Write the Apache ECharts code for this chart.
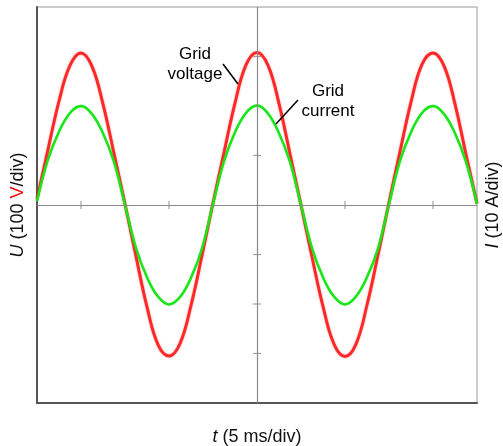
<!DOCTYPE html>
<html>
<head>
<meta charset="utf-8">
<title>Grid voltage and current</title>
<script src="https://cdn.jsdelivr.net/npm/echarts@6.0.0/dist/echarts.min.js"></script>
<style>
  html, body { margin: 0; padding: 0; background: #fff; }
  #chart { width: 503px; height: 446px; }
</style>
</head>
<body>
<div id="chart"></div>
<script>
// sample times in ms (scope set to 5 ms/div, 5 divisions shown)
var timeMs = [
  -12.5, -11.875, -11.25, -10.625, -10, -9.375, -8.75, -8.125,
  -7.5, -6.875, -6.25, -5.625, -5, -4.375, -3.75, -3.125,
  -2.5, -1.875, -1.25, -0.625, 0, 0.625, 1.25, 1.875,
  2.5, 3.125, 3.75, 4.375, 5, 5.625, 6.25, 6.875,
  7.5, 8.125, 8.75, 9.375, 10, 10.625, 11.25, 11.875, 12.5
]
// grid voltage, V (100 V/div) - red trace
var gridVoltage = [
  12, 112, 210, 282, 307, 280, 204, 104,
  2, -104, -206, -282, -305, -280, -203, -102,
  4, 106, 206, 283, 308, 282, 205, 103,
  0, -105, -205, -281, -306, -281, -202, -101,
  5, 108, 208, 284, 307, 281, 204, 102, 3
]
// grid current, A (10 A/div) - green trace
var gridCurrent = [
  0.8, 9.2, 14.8, 18.6, 20.0, 18.4, 14.5, 8.7,
  0.0, -8.7, -14.6, -18.5, -20.1, -18.6, -14.7, -8.8,
  0.2, 8.8, 14.7, 18.6, 20.1, 18.5, 14.5, 8.7,
  0.0, -8.7, -14.6, -18.5, -20.1, -18.5, -14.6, -8.8,
  0.2, 8.9, 14.7, 18.6, 20.0, 18.4, 14.5, 8.7, 0.2
]
// division marks on the centre cross
var timeTicks = [-10, -5, 5, 10]
var voltageTicks = [-300, -200, -100, 100, 200, 300]

var chart = echarts.init(document.getElementById('chart'))

var voltageData = timeMs.map(function(t, i) { return [t, gridVoltage[i]] })
var currentData = timeMs.map(function(t, i) { return [t, gridCurrent[i]] })

var font = 'Liberation Sans, Arial, sans-serif'

chart.setOption({
  animation: false,
  textStyle: { fontFamily: font },
  grid: {
    left: 37, top: 7, right: 26, bottom: 43,
    outerBoundsMode: 'none',
    containLabel: false,
    show: true,
    borderColor: '#9a9a9a',
    borderWidth: 1
  },
  xAxis: {
    type: 'value',
    min: -12.5,
    max: 12.5,
    axisLine: { onZero: false, lineStyle: { color: '#555', width: 2 } },
    axisTick: { show: false },
    axisLabel: { show: false },
    splitLine: { show: false },
    name: '{i|t} (5 ms/div)',
    nameLocation: 'middle',
    nameGap: 25,
    nameTextStyle: {
      fontSize: 18, color: '#111',
      rich: { i: { fontStyle: 'italic', fontSize: 18, color: '#111' } }
    }
  },
  yAxis: [
    {
      type: 'value',
      min: -400,
      max: 400,
      axisLine: { onZero: false, lineStyle: { color: '#555', width: 2 } },
      axisTick: { show: false },
      axisLabel: { show: false },
      splitLine: { show: false },
      name: '{i|U} (100 {r|V}/div)',
      nameLocation: 'middle',
      nameRotate: 90,
      nameGap: 10,
      nameTextStyle: {
        fontSize: 18, color: '#111',
        rich: {
          i: { fontStyle: 'italic', fontSize: 18, color: '#111' },
          r: { fontSize: 18, color: '#ff0000' }
        }
      }
    },
    {
      type: 'value',
      position: 'right',
      min: -40,
      max: 40,
      axisLine: { show: false },
      axisTick: { show: false },
      axisLabel: { show: false },
      splitLine: { show: false },
      name: '{i|I} (10 A/div)',
      nameLocation: 'middle',
      nameRotate: 90,
      nameGap: 7,
      nameTextStyle: {
        fontSize: 18, color: '#111',
        rich: { i: { fontStyle: 'italic', fontSize: 18, color: '#111' } }
      }
    }
  ],
  series: [
    {
      // centre cross + time division marks
      type: 'scatter',
      silent: true,
      symbol: 'rect',
      symbolSize: [1.2, 8],
      itemStyle: { color: '#8a8a8a' },
      data: timeTicks.map(function(t) { return [t, 0] }),
      markLine: {
        silent: true,
        symbol: 'none',
        label: { show: false },
        lineStyle: { color: '#8a8a8a', width: 1.2, type: 'solid' },
        data: [{ yAxis: 0 }, { xAxis: 0 }]
      },
      z: 1
    },
    {
      type: 'scatter',
      silent: true,
      symbol: 'rect',
      symbolSize: [8, 1.2],
      itemStyle: { color: '#8a8a8a' },
      data: voltageTicks.map(function(v) { return [0, v] }),
      z: 1
    },
    {
      name: 'Grid voltage',
      type: 'line',
      yAxisIndex: 0,
      data: voltageData,
      smooth: 0.4,
      showSymbol: false,
      lineStyle: {
        color: '#ff1010', width: 3, opacity: 0.85,
        shadowBlur: 2, shadowColor: 'rgba(255,0,0,0.45)'
      },
      z: 3
    },
    {
      name: 'Grid current',
      type: 'line',
      yAxisIndex: 1,
      data: currentData,
      smooth: 0.4,
      showSymbol: false,
      lineStyle: {
        color: '#18e618', width: 2.4,
        shadowBlur: 1, shadowColor: 'rgba(0,220,0,0.5)'
      },
      z: 4
    }
  ],
  graphic: [
    {
      type: 'text', z: 10, x: 195, y: 44,
      style: {
        text: 'Grid\nvoltage', fill: '#000', font: '17px ' + font,
        align: 'center', verticalAlign: 'top', lineHeight: 20
      }
    },
    {
      type: 'line', z: 10,
      shape: { x1: 223, y1: 64, x2: 238, y2: 84 },
      style: { stroke: '#000', lineWidth: 1.5 }
    },
    {
      type: 'text', z: 10, x: 328, y: 81,
      style: {
        text: 'Grid\ncurrent', fill: '#000', font: '17px ' + font,
        align: 'center', verticalAlign: 'top', lineHeight: 20
      }
    },
    {
      type: 'line', z: 10,
      shape: { x1: 298, y1: 100, x2: 276, y2: 124 },
      style: { stroke: '#000', lineWidth: 1.5 }
    }
  ]
})
</script>
</body>
</html>
